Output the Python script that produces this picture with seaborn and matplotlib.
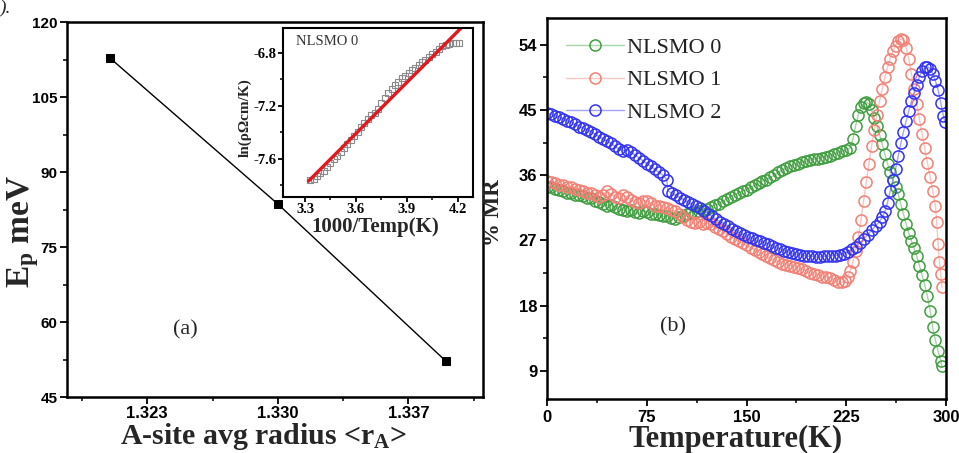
import matplotlib
matplotlib.use("Agg")
import matplotlib.pyplot as plt
from matplotlib.ticker import FixedLocator, FormatStrFormatter
import seaborn as sns

# ---------------- data ----------------
# (a) activation energy vs A-site radius
r_A = [1.3210, 1.3300, 1.3390]
Ep = [112.8, 83.6, 52.2]
xticks_a = [1.323, 1.330, 1.337]
yticks_a = [45, 60, 75, 90, 105, 120]

# inset: ln(rho/T) vs 1000/T for NLSMO 0
inv_T = [3.33, 3.35, 3.37, 3.39, 3.41, 3.43, 3.45, 3.47, 3.49, 3.51, 3.53, 3.55,
         3.57, 3.59, 3.61, 3.63, 3.65, 3.67, 3.69, 3.71, 3.73, 3.75, 3.77, 3.79,
         3.81, 3.83, 3.85, 3.87, 3.89, 3.91, 3.93, 3.95, 3.97, 3.99, 4.01, 4.03,
         4.05, 4.07, 4.09, 4.11, 4.13, 4.15, 4.17, 4.19, 4.21]
ln_rho = [-7.76, -7.75, -7.73, -7.71, -7.69, -7.66, -7.63, -7.60, -7.58, -7.55,
          -7.52, -7.49, -7.46, -7.43, -7.40, -7.36, -7.33, -7.30, -7.27, -7.25,
          -7.22, -7.18, -7.14, -7.10, -7.07, -7.04, -7.02, -6.99, -6.97, -6.95,
          -6.93, -6.91, -6.89, -6.87, -6.85, -6.83, -6.81, -6.79, -6.77, -6.75,
          -6.74, -6.73, -6.72, -6.72, -6.72]
fit_x = [3.32, 4.22]
fit_y = [-7.77, -6.61]
xticks_i = [3.3, 3.6, 3.9, 4.2]
yticks_i = [-7.6, -7.2, -6.8]

# (b) %MR vs temperature
T0 = [0, 3, 6, 9, 12, 15, 18, 21, 24, 27, 30, 33, 36, 39, 42, 45, 48, 51, 54, 57,
      60, 63, 66, 69, 72, 75, 78, 81, 84, 87, 90, 93, 96, 99, 102, 105, 108, 111,
      114, 117, 120, 123, 126, 129, 132, 135, 138, 141, 144, 147, 150, 153, 156,
      159, 162, 165, 168, 171, 174, 177, 180, 183, 186, 189, 192, 195, 198, 201,
      204, 207, 210, 213, 216, 219, 222, 225, 228, 230, 232, 234, 236, 238, 240,
      242, 244, 246, 248, 250, 252, 254, 256, 258, 260, 262, 264, 266, 268, 270,
      272, 274, 276, 278, 280, 282, 284, 286, 288, 290, 292, 294, 296, 297]
MR0 = [34.4, 34.3, 34.1, 33.9, 33.8, 33.6, 33.5, 33.3, 33.2, 33.1, 32.9, 32.8,
       32.5, 32.3, 32.0, 31.8, 31.9, 31.6, 31.3, 31.2, 31.0, 31.2, 30.9, 30.8,
       31.0, 30.9, 30.7, 30.6, 30.5, 30.3, 30.3, 30.1, 30.0, 30.2, 30.3, 30.6,
       30.9, 30.8, 31.0, 31.2, 31.3, 31.6, 31.9, 32.0, 32.4, 32.7, 33.0, 33.3,
       33.5, 33.8, 34.0, 34.3, 34.6, 34.9, 35.2, 35.4, 35.7, 36.0, 36.4, 36.7,
       37.0, 37.2, 37.4, 37.6, 37.8, 37.9, 38.1, 38.2, 38.3, 38.4, 38.5, 38.7,
       38.9, 39.1, 39.3, 39.5, 39.8, 41.0, 42.8, 44.3, 45.4, 45.9, 46.1, 45.8,
       45.0, 43.9, 42.8, 41.6, 40.3, 38.9, 37.6, 36.4, 35.3, 34.3, 33.4, 32.0,
       30.6, 29.3, 28.0, 26.9, 25.9, 24.8, 23.5, 22.2, 20.8, 19.3, 17.3, 15.0,
       13.2, 11.7, 10.4, 9.6]

T1 = [0, 3, 6, 9, 12, 15, 18, 21, 24, 27, 30, 33, 36, 39, 42, 45, 48, 51, 54, 57,
      60, 63, 66, 69, 72, 75, 78, 81, 84, 87, 90, 93, 96, 99, 102, 105, 108, 111,
      114, 117, 120, 123, 126, 129, 132, 135, 138, 141, 144, 147, 150, 153, 156,
      159, 162, 165, 168, 171, 174, 177, 180, 183, 186, 189, 192, 195, 198, 201,
      204, 207, 210, 213, 216, 219, 222, 224, 226, 228, 230, 232, 234, 236, 238,
      240, 242, 244, 246, 248, 250, 252, 254, 256, 258, 260, 262, 264, 266, 268,
      270, 272, 274, 276, 278, 280, 282, 284, 286, 288, 290, 292, 293, 294, 295,
      296, 297]
MR1 = [35.2, 35.0, 34.9, 34.7, 34.6, 34.4, 34.3, 34.1, 34.0, 33.8, 33.6, 33.5,
       33.2, 33.0, 33.3, 33.8, 33.4, 33.0, 32.8, 33.2, 33.0, 32.6, 32.3, 32.2,
       32.5, 32.4, 32.1, 31.8, 31.8, 31.6, 31.5, 31.2, 31.0, 30.6, 30.2, 29.8,
       29.6, 29.4, 29.5, 29.3, 29.4, 29.2, 28.9, 28.6, 28.3, 27.9, 27.5, 27.2,
       26.9, 26.6, 26.3, 26.0, 25.7, 25.4, 25.1, 24.8, 24.5, 24.3, 24.0, 23.8,
       23.6, 23.5, 23.3, 23.2, 23.0, 22.8, 22.5, 22.3, 22.2, 22.0, 21.9, 21.8,
       21.5, 21.3, 21.2, 21.4, 22.0, 22.8, 24.0, 25.6, 27.5, 29.8, 32.4, 35.0,
       37.6, 40.0, 42.2, 44.3, 46.2, 47.9, 49.5, 50.9, 52.1, 53.1, 53.9, 54.5,
       54.8, 54.6, 53.6, 52.0, 50.0, 47.9, 45.8, 43.7, 41.7, 39.7, 37.7, 35.8,
       33.8, 31.8, 29.5, 26.5, 24.0, 22.3, 20.5]

T2 = [0, 3, 6, 9, 12, 15, 18, 21, 24, 27, 30, 33, 36, 39, 42, 45, 48, 51, 54, 57,
      60, 63, 66, 69, 72, 75, 78, 81, 84, 87, 90, 91, 94, 97, 100, 103, 106, 109,
      112, 115, 118, 121, 124, 127, 130, 133, 136, 139, 142, 145, 148, 151, 154,
      157, 160, 163, 166, 169, 172, 175, 178, 181, 184, 187, 190, 193, 196, 199,
      202, 205, 208, 211, 214, 217, 220, 223, 226, 229, 232, 235, 238, 241, 244,
      247, 250, 252, 254, 256, 258, 260, 262, 264, 266, 268, 270, 272, 274, 276,
      278, 280, 282, 284, 286, 288, 290, 292, 294, 296, 298, 299]
MR2 = [44.6, 44.4, 44.2, 44.0, 43.8, 43.5, 43.3, 43.0, 42.7, 42.5, 42.3, 42.0,
       41.7, 41.3, 41.0, 40.7, 40.4, 40.0, 39.6, 39.4, 39.5, 39.2, 38.8, 38.4,
       38.0, 37.6, 37.2, 36.8, 36.4, 36.0, 35.4, 33.8, 33.5, 33.2, 32.9, 32.6,
       32.3, 32.0, 31.7, 31.4, 31.1, 30.7, 30.3, 29.9, 29.6, 29.3, 29.0, 28.6,
       28.3, 28.0, 27.8, 27.5, 27.3, 27.0, 26.9, 26.7, 26.5, 26.2, 26.0, 25.8,
       25.6, 25.4, 25.2, 25.1, 25.0, 24.9, 24.8, 24.8, 24.7, 24.7, 24.8, 24.8,
       24.9, 24.9, 25.0, 25.1, 25.4, 25.8, 26.1, 26.6, 27.2, 27.8, 28.4, 29.0,
       29.6, 30.2, 31.0, 32.2, 33.8, 35.3, 36.8, 38.6, 40.4, 42.0, 43.5, 44.9,
       46.2, 47.4, 48.5, 49.6, 50.4, 50.9, 51.0, 50.7, 50.0, 49.0, 47.8, 46.0,
       44.2, 43.4]
labels_b = ["NLSMO 0", "NLSMO 1", "NLSMO 2"]
xticks_b = [0, 75, 150, 225, 300]
yticks_b = [9, 18, 27, 36, 45, 54]

# ---------------- style ----------------
sns.set_theme(style="ticks")
plt.rcParams["font.family"] = ["Liberation Serif", "DejaVu Serif"]
plt.rcParams["mathtext.fontset"] = "custom"
plt.rcParams["mathtext.rm"] = "Liberation Serif"
plt.rcParams["mathtext.bf"] = "Liberation Serif:bold"
plt.rcParams["mathtext.it"] = "Liberation Serif:italic"

SANS = "Liberation Sans"

fig = plt.figure(figsize=(9.59, 4.53), dpi=100)
fig.patch.set_facecolor("white")
axL = fig.add_axes([0.0699, 0.1236, 0.4338, 0.8278])
axI = fig.add_axes([0.2951, 0.5651, 0.1981, 0.3731])
axR = fig.add_axes([0.5704, 0.1192, 0.4161, 0.8411])


def style_axes(ax, lw=1.8, tick_fs=11.5, family=SANS, major_len=5, minor_len=3, pad=2):
    for s in ax.spines.values():
        s.set_linewidth(lw)
        s.set_color("black")
        s.set_visible(True)
    ax.set_facecolor("white")
    ax.tick_params(which="major", direction="out", length=major_len, width=1.3,
                   colors="black", labelsize=tick_fs, pad=pad)
    ax.tick_params(which="minor", direction="out", length=minor_len, width=1.1,
                   colors="black")
    for lab in ax.get_xticklabels() + ax.get_yticklabels():
        lab.set_fontfamily(family)
        lab.set_fontweight("bold")
    ax.grid(False)


# ---------------- (a) ----------------
sns.lineplot(x=r_A, y=Ep, ax=axL, color="black", linewidth=1.0, marker="s",
             markersize=6, markerfacecolor="black", markeredgecolor="black",
             estimator=None, sort=False, legend=False)
axL.set_xlim(1.3187, 1.3410)
axL.set_ylim(45, 120)
axL.xaxis.set_major_locator(FixedLocator(xticks_a))
axL.xaxis.set_minor_locator(FixedLocator([1.3195, 1.3265, 1.3335, 1.3405]))
axL.xaxis.set_major_formatter(FormatStrFormatter("%.3f"))
axL.yaxis.set_major_locator(FixedLocator(yticks_a))
axL.yaxis.set_minor_locator(FixedLocator([52.5, 67.5, 82.5, 97.5, 112.5]))
axL.set_xlabel("")
axL.set_ylabel("")
style_axes(axL, tick_fs=11)
axL.tick_params(axis="x", labelsize=12, pad=1.5)
axL.text(0.284, 0.179, "(a)", transform=axL.transAxes, fontsize=16,
         ha="center", va="center")

# inset
sns.lineplot(x=inv_T, y=ln_rho, ax=axI, linestyle="none", marker="s",
             markersize=4.5, markerfacecolor="none", markeredgecolor="#8a8a8a",
             markeredgewidth=0.8, estimator=None, sort=False, legend=False)
sns.lineplot(x=fit_x, y=fit_y, ax=axI, color="#e3171e", linewidth=2.4,
             estimator=None, sort=False, legend=False)
axI.set_xlim(3.17, 4.29)
axI.set_ylim(-7.89, -6.61)
axI.xaxis.set_major_locator(FixedLocator(xticks_i))
axI.xaxis.set_minor_locator(FixedLocator([3.45, 3.75, 4.05]))
axI.yaxis.set_major_locator(FixedLocator(yticks_i))
axI.yaxis.set_minor_locator(FixedLocator([-7.8, -7.4, -7.0]))
axI.xaxis.set_major_formatter(FormatStrFormatter("%.1f"))
axI.yaxis.set_major_formatter(FormatStrFormatter("%.1f"))
axI.set_xlabel("")
axI.set_ylabel("")
style_axes(axI, lw=1.5, tick_fs=10.5, family="Liberation Serif", major_len=3.5,
           minor_len=2, pad=1)
axI.text(0.07, 0.92, "NLSMO 0", transform=axI.transAxes, fontsize=10.5,
         color="#333333", ha="left", va="center")
fig.text(375 / 959, 1 - 227 / 453, "1000/Temp(K)", fontsize=15, fontweight="bold",
         ha="center", va="center")
fig.text(245 / 959, 1 - 118 / 453, "ln(ρΩcm/K)", fontsize=11, fontweight="bold",
         rotation=90, ha="center", va="center")

# ---------------- (b) ----------------
cols = [(0.25, 0.62, 0.25), (0.95, 0.50, 0.46), (0.20, 0.20, 0.95)]
for T, MR, c, lab in zip([T0, T1, T2], [MR0, MR1, MR2], cols, labels_b):
    sns.lineplot(x=T, y=MR, ax=axR, color=(c[0], c[1], c[2], 0.45), linewidth=1.0,
                 marker="o", markersize=8, markerfacecolor="none",
                 markeredgecolor=c, markeredgewidth=1.1,
                 estimator=None, sort=False, label=lab)
axR.set_xlim(0, 300)
axR.set_ylim(5.1, 57.7)
axR.xaxis.set_major_locator(FixedLocator(xticks_b))
axR.xaxis.set_minor_locator(FixedLocator([37.5, 112.5, 187.5, 262.5]))
axR.yaxis.set_major_locator(FixedLocator(yticks_b))
axR.yaxis.set_minor_locator(FixedLocator([13.5, 22.5, 31.5, 40.5, 49.5]))
axR.set_xlabel("")
axR.set_ylabel("")
style_axes(axR, tick_fs=12)
axR.tick_params(axis="x", pad=3)
leg = axR.legend(loc="upper left", bbox_to_anchor=(0.048, 0.95), frameon=False,
                 fontsize=16, handlelength=2.6, handletextpad=0.15,
                 labelspacing=0.55, borderpad=0, borderaxespad=0)
for t in leg.get_texts():
    t.set_color("#222222")
axR.text(0.316, 0.189, "(b)", transform=axR.transAxes, fontsize=16,
         ha="center", va="center")

# ---------------- axis labels ----------------
fig.text(23 / 959, 1 - 231 / 453, r"E$_{\mathbf{p}}$ meV", fontsize=24,
         fontweight="bold", rotation=90, ha="center", va="center")
fig.text(263 / 959, 1 - 444 / 453, r"A-site avg radius <r$_{\mathbf{A}}$>",
         fontsize=21.5, fontweight="bold", ha="center", va="baseline")
fig.text(493 / 959, 1 - 213 / 453, "% MR", fontsize=16.5, fontweight="bold",
         rotation=90, ha="center", va="center")
fig.text(736 / 959, 1 - 447 / 453, "Temperature(K)", fontsize=22,
         fontweight="bold", ha="center", va="baseline")
fig.text(0.0, 1.0, ").", fontsize=14, style="italic", ha="left", va="top")

fig.savefig("out.png", dpi=100, facecolor="white")
